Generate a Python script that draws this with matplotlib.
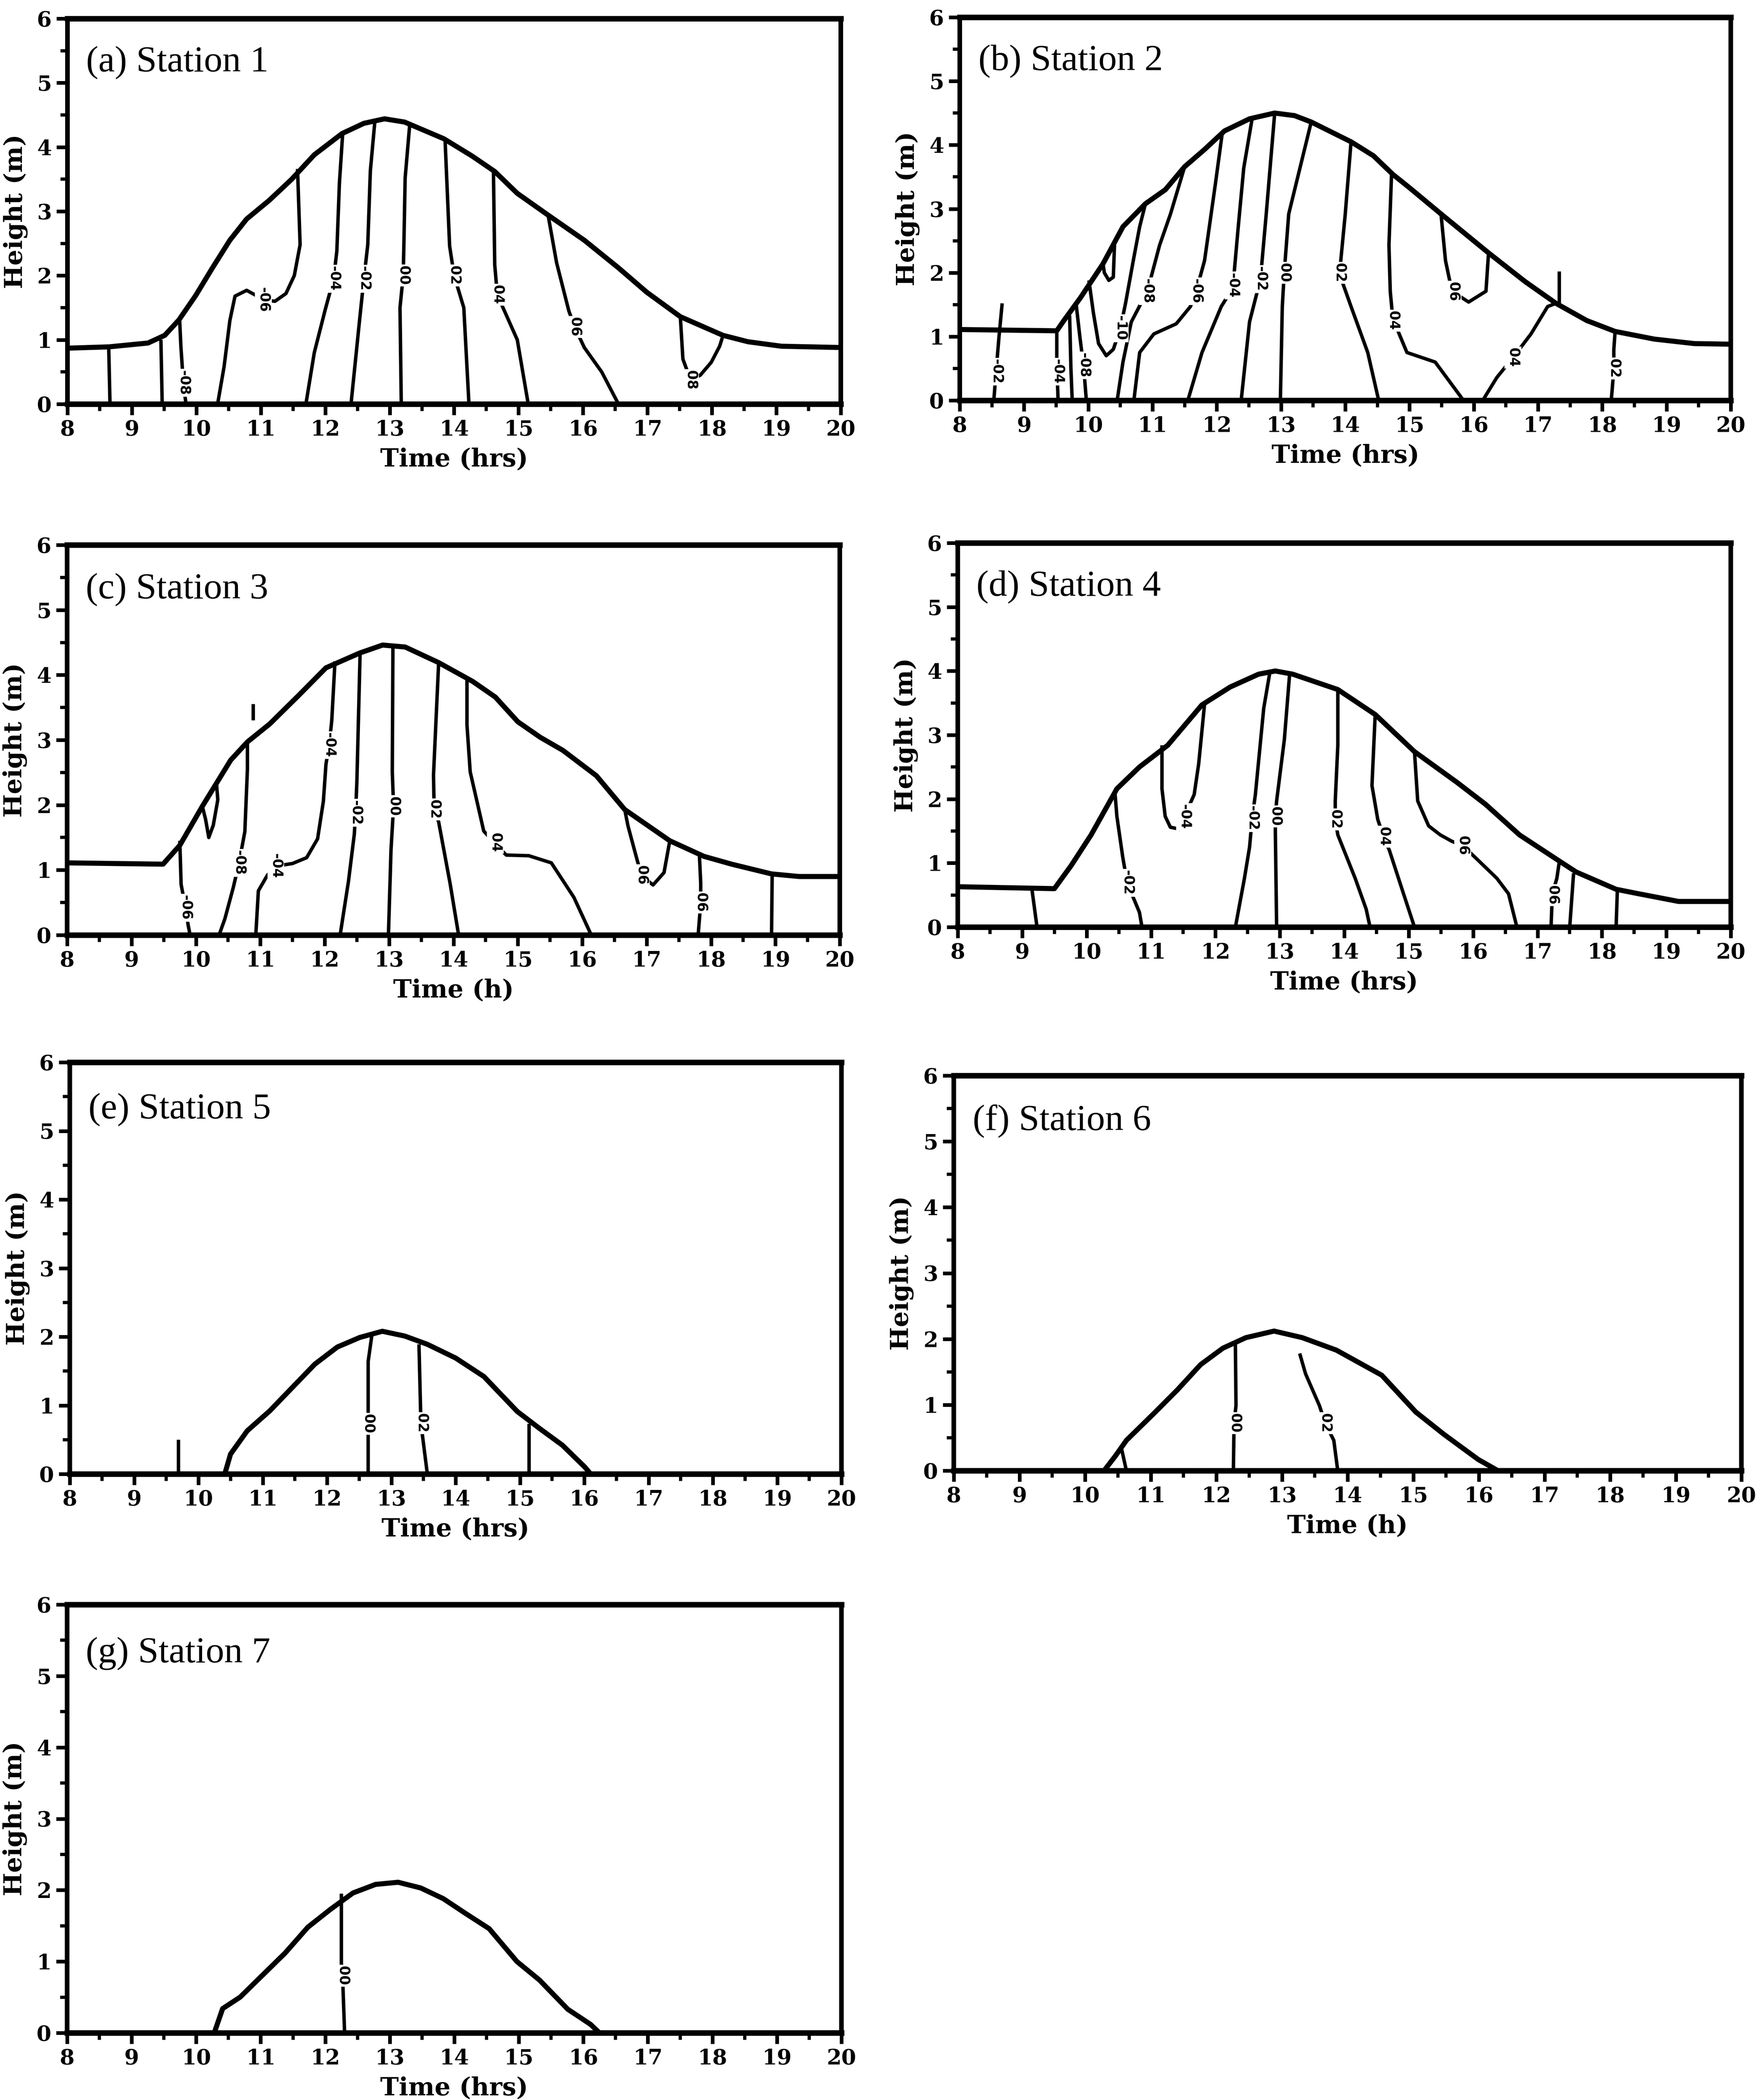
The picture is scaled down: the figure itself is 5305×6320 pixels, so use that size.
import matplotlib
matplotlib.use("Agg")
import matplotlib.pyplot as plt
from matplotlib.ticker import MultipleLocator

# water surface (time in hrs, height in m) and velocity contours for each station

S1_T = [8.0, 8.64, 9.25, 9.51, 9.73, 9.99, 10.25, 10.52, 10.78, 11.13, 11.48, 11.83, 12.26, 12.6, 12.92,
        13.23, 13.84, 14.28, 14.63, 14.98, 15.46, 16.02, 16.55, 16.99, 17.51, 18.17, 18.56, 19.08, 20.0]
S1_H = [0.87, 0.89, 0.95, 1.07, 1.31, 1.69, 2.12, 2.55, 2.88, 3.17, 3.5, 3.88, 4.21, 4.37, 4.44,
        4.39, 4.13, 3.86, 3.62, 3.28, 2.94, 2.55, 2.12, 1.74, 1.36, 1.07, 0.97, 0.9, 0.88]
S1_LINES = [
    ([8.64, 8.66], [0.89, 0.0]),
    ([9.45, 9.47], [1.0, 0.0]),
    ([9.74, 9.76, 9.8, 9.84], [1.33, 0.9, 0.3, 0.0]),
    ([10.33, 10.43, 10.52, 10.6, 10.78, 10.91, 11.04, 11.22, 11.39, 11.52, 11.61, 11.57],
     [0.0, 0.58, 1.3, 1.68, 1.77, 1.7, 1.62, 1.6, 1.72, 2.0, 2.48, 3.66]),
    ([11.7, 11.83, 12.0, 12.13, 12.18, 12.22, 12.27], [0.0, 0.8, 1.47, 1.95, 2.38, 3.44, 4.2]),
    ([12.4, 12.53, 12.6, 12.66, 12.7, 12.77], [0.0, 1.28, 1.95, 2.48, 3.63, 4.4]),
    ([13.18, 13.16, 13.21, 13.22, 13.24, 13.31], [0.0, 1.5, 2.0, 2.46, 3.52, 4.34]),
    ([14.23, 14.15, 14.0, 13.93, 13.86], [0.0, 1.5, 2.0, 2.46, 4.1]),
    ([15.15, 14.98, 14.67, 14.63, 14.61], [0.0, 1.0, 1.7, 2.17, 3.63]),
    ([16.55, 16.29, 16.02, 15.87, 15.78, 15.59, 15.46], [0.0, 0.5, 0.88, 1.2, 1.45, 2.2, 2.93]),
    ([17.51, 17.55, 17.67, 17.82, 17.99, 18.12, 18.17], [1.36, 0.7, 0.37, 0.45, 0.65, 0.9, 1.06]),
]
S1_LABELS = [(9.8, 0.33, "-08"), (11.04, 1.62, "-06"), (12.13, 1.95, "-04"), (12.6, 1.95, "-02"),
             (13.21, 2.0, "00"), (14.0, 2.0, "02"), (14.67, 1.7, "04"), (15.87, 1.2, "06"),
             (17.67, 0.37, "08")]

S2_T = [8.0, 9.51, 9.62, 9.88, 10.23, 10.54, 10.89, 11.2, 11.5, 11.81, 12.12, 12.51, 12.9, 13.21,
        13.47, 14.09, 14.44, 14.74, 15.0, 15.49, 16.23, 16.8, 17.28, 17.76, 18.2, 18.81, 19.43, 20.0]
S2_H = [1.11, 1.09, 1.25, 1.61, 2.14, 2.72, 3.08, 3.3, 3.66, 3.93, 4.22, 4.41, 4.5, 4.46,
        4.36, 4.05, 3.83, 3.54, 3.33, 2.92, 2.31, 1.86, 1.52, 1.25, 1.08, 0.96, 0.89, 0.88]
S2_LINES = [
    ([8.66, 8.61, 8.57, 8.53], [1.52, 0.99, 0.51, 0.0]),
    ([9.51, 9.51, 9.53], [1.1, 0.6, 0.0]),
    ([9.71, 9.73, 9.75], [1.33, 0.5, 0.0]),
    ([9.81, 9.87, 9.93, 9.97], [1.52, 0.99, 0.51, 0.0]),
    ([10.01, 10.08, 10.16, 10.28, 10.39, 10.5, 10.58, 10.71, 10.8, 10.89],
     [1.88, 1.37, 0.89, 0.7, 0.8, 1.13, 1.52, 2.24, 2.72, 3.08]),
    ([10.23, 10.25, 10.32, 10.39, 10.41], [2.14, 2.0, 1.88, 1.93, 2.48]),
    ([10.45, 10.54, 10.67, 10.92, 11.11, 11.28, 11.5], [0.0, 0.6, 1.23, 1.71, 2.43, 2.92, 3.66]),
    ([10.71, 10.8, 11.02, 11.37, 11.59, 11.68, 11.81, 11.98, 12.09],
     [0.0, 0.75, 1.04, 1.2, 1.47, 1.71, 2.19, 3.4, 4.22]),
    ([11.55, 11.77, 12.07, 12.25, 12.33, 12.42, 12.55], [0.0, 0.75, 1.47, 1.76, 2.67, 3.64, 4.41]),
    ([12.38, 12.51, 12.68, 12.77, 12.9], [0.0, 1.23, 1.9, 2.92, 4.48]),
    ([12.99, 13.02, 13.05, 13.12, 13.47], [0.0, 1.47, 2.0, 2.92, 4.36]),
    ([14.52, 14.35, 14.09, 13.91, 14.0, 14.09], [0.0, 0.75, 1.47, 1.98, 2.92, 4.05]),
    ([14.72, 14.68, 14.7, 14.74, 14.96, 15.4, 15.84], [3.54, 2.43, 1.71, 1.28, 0.75, 0.6, 0.0]),
    ([15.49, 15.56, 15.66, 15.92, 16.19, 16.23], [2.92, 2.19, 1.71, 1.54, 1.71, 2.31]),
    ([16.14, 16.36, 16.61, 16.89, 17.15, 17.28], [0.0, 0.36, 0.67, 1.04, 1.47, 1.52]),
    ([17.33, 17.33], [2.02, 1.47]),
    ([18.2, 18.18, 18.18, 18.14], [1.08, 0.8, 0.48, 0.0]),
]
S2_LABELS = [(8.57, 0.45, "-02"), (9.52, 0.45, "-04"), (9.93, 0.55, "-08"), (10.5, 1.13, "-10"),
             (10.92, 1.71, "-08"), (11.68, 1.71, "-06"), (12.25, 1.8, "-04"), (12.68, 1.9, "-02"),
             (13.05, 2.0, "00"), (13.91, 2.0, "02"), (14.74, 1.25, "04"), (15.68, 1.7, "06"),
             (16.61, 0.67, "04"), (18.18, 0.5, "02")]

S3_T = [8.0, 9.49, 9.75, 10.1, 10.54, 10.8, 11.15, 11.59, 12.02, 12.55, 12.9, 13.25, 13.77, 14.3,
        14.65, 15.0, 15.35, 15.7, 16.22, 16.66, 17.36, 17.89, 18.32, 18.94, 19.37, 20.0]
S3_H = [1.11, 1.09, 1.38, 1.98, 2.69, 2.97, 3.25, 3.68, 4.11, 4.34, 4.46, 4.43, 4.19, 3.9,
        3.66, 3.28, 3.04, 2.84, 2.45, 1.93, 1.45, 1.21, 1.09, 0.94, 0.9, 0.9]
S3_LINES = [
    ([9.75, 9.77, 9.84, 9.88, 9.91], [1.45, 0.78, 0.41, 0.15, 0.0]),
    ([10.1, 10.15, 10.2, 10.27, 10.34, 10.32], [1.98, 1.78, 1.5, 1.69, 2.08, 2.33]),
    ([10.8, 10.8, 10.76, 10.67, 10.58, 10.45, 10.36], [2.97, 2.55, 1.59, 1.11, 0.73, 0.25, 0.0]),
    ([10.89, 10.89], [3.55, 3.3]),
    ([10.93, 10.97, 11.11, 11.24, 11.5, 11.72, 11.89, 11.98, 12.02, 12.07, 12.11, 12.16],
     [0.0, 0.68, 0.92, 1.06, 1.1, 1.19, 1.48, 2.06, 2.63, 2.92, 3.3, 4.21]),
    ([12.24, 12.37, 12.46, 12.48, 12.5, 12.55], [0.0, 0.83, 1.55, 1.88, 2.36, 4.34]),
    ([12.99, 13.03, 13.07, 13.05, 13.06], [0.0, 1.31, 1.98, 2.51, 4.45]),
    ([14.08, 13.95, 13.77, 13.7, 13.69, 13.77], [0.0, 0.78, 1.74, 1.93, 2.46, 4.19]),
    ([14.21, 14.21, 14.26, 14.47, 14.65, 14.82, 15.17, 15.52, 15.87, 16.14],
     [3.96, 3.23, 2.51, 1.6, 1.4, 1.23, 1.22, 1.11, 0.58, 0.0]),
    ([16.66, 16.71, 16.84, 16.92, 17.1, 17.27, 17.36], [1.93, 1.68, 1.2, 0.91, 0.77, 0.96, 1.45]),
    ([17.82, 17.84, 17.84, 17.8], [1.22, 0.8, 0.49, 0.0]),
    ([18.95, 18.94], [0.94, 0.0]),
]
S3_LABELS = [(9.84, 0.42, "-06"), (10.67, 1.11, "-08"), (11.24, 1.06, "-04"), (12.07, 2.92, "-04"),
             (12.48, 1.88, "-02"), (13.07, 1.98, "00"), (13.7, 1.93, "02"), (14.65, 1.42, "04"),
             (16.92, 0.92, "06"), (17.84, 0.5, "06")]

S4_T = [8.0, 9.5, 9.76, 10.07, 10.47, 10.82, 11.26, 11.79, 12.23, 12.67, 12.93, 13.2, 13.9, 14.48,
        15.09, 15.75, 16.19, 16.72, 17.34, 17.6, 18.22, 18.57, 19.19, 20.0]
S4_H = [0.63, 0.6, 0.96, 1.44, 2.16, 2.5, 2.84, 3.47, 3.75, 3.95, 4.0, 3.95, 3.71, 3.32,
        2.74, 2.26, 1.92, 1.44, 1.03, 0.86, 0.59, 0.52, 0.4, 0.4]
S4_LINES = [
    ([9.15, 9.23], [0.6, 0.0]),
    ([10.44, 10.47, 10.56, 10.63, 10.82, 10.86], [2.1, 1.73, 1.1, 0.69, 0.23, 0.0]),
    ([11.17, 11.17, 11.22, 11.3, 11.44, 11.52, 11.67, 11.74, 11.83],
     [2.84, 2.16, 1.73, 1.56, 1.53, 1.73, 2.07, 2.55, 3.47]),
    ([12.31, 12.45, 12.53, 12.57, 12.62, 12.75, 12.84], [0.0, 0.76, 1.25, 1.7, 2.07, 3.42, 3.95]),
    ([12.95, 12.93, 12.93, 12.95, 13.07, 13.15], [0.0, 1.49, 1.73, 1.97, 2.93, 3.93]),
    ([13.9, 13.9, 13.86, 13.86, 13.9, 14.17, 14.34, 14.4], [3.71, 2.84, 1.97, 1.68, 1.44, 0.76, 0.28, 0.0]),
    ([14.48, 14.43, 14.52, 14.61, 14.7, 14.92, 15.09], [3.32, 2.21, 1.68, 1.41, 1.2, 0.52, 0.0]),
    ([15.09, 15.14, 15.31, 15.49, 15.67, 15.84, 16.02, 16.37, 16.55, 16.68],
     [2.74, 1.97, 1.58, 1.44, 1.34, 1.27, 1.1, 0.76, 0.52, 0.0]),
    ([17.34, 17.3, 17.23, 17.21], [1.03, 0.76, 0.52, 0.0]),
    ([17.56, 17.5], [0.84, 0.0]),
    ([18.24, 18.22], [0.59, 0.0]),
]
S4_LABELS = [(10.63, 0.69, "-02"), (11.52, 1.72, "-04"), (12.57, 1.7, "-02"), (12.93, 1.73, "00"),
             (13.86, 1.68, "02"), (14.61, 1.41, "04"), (15.84, 1.27, "06"), (17.23, 0.5, "06")]

S5_T = [8.0, 10.41, 10.5, 10.76, 11.11, 11.46, 11.81, 12.16, 12.51, 12.86, 13.21, 13.56, 14.0,
        14.44, 14.96, 15.31, 15.66, 16.01, 16.1, 20.0]
S5_H = [0.0, 0.0, 0.29, 0.63, 0.92, 1.26, 1.6, 1.85, 1.99, 2.08, 2.01, 1.89, 1.69,
        1.42, 0.91, 0.66, 0.42, 0.1, 0.0, 0.0]
S5_LINES = [
    ([9.69, 9.69], [0.5, 0.0]),
    ([12.7, 12.64, 12.64, 12.64], [2.04, 1.64, 0.73, 0.0]),
    ([13.43, 13.46, 13.56], [1.89, 0.74, 0.0]),
    ([15.14, 15.14], [0.73, 0.0]),
]
S5_LABELS = [(12.64, 0.73, "00"), (13.47, 0.74, "02")]

S6_T = [8.0, 10.29, 10.46, 10.63, 11.07, 11.41, 11.76, 12.1, 12.45, 12.88, 13.31, 13.83, 14.52,
        15.04, 15.47, 15.99, 16.29, 20.0]
S6_H = [0.0, 0.0, 0.22, 0.46, 0.89, 1.23, 1.61, 1.86, 2.02, 2.12, 2.02, 1.83, 1.45,
        0.89, 0.55, 0.17, 0.0, 0.0]
S6_LINES = [
    ([10.55, 10.63], [0.36, 0.0]),
    ([12.29, 12.3, 12.27, 12.26], [1.95, 0.99, 0.72, 0.0]),
    ([13.27, 13.36, 13.57, 13.66, 13.79, 13.85], [1.78, 1.47, 0.99, 0.72, 0.46, 0.0]),
]
S6_LABELS = [(12.28, 0.72, "00"), (13.66, 0.72, "02")]

S7_T = [8.0, 10.28, 10.41, 10.68, 11.03, 11.38, 11.73, 12.08, 12.43, 12.78, 13.13, 13.48, 13.83,
        14.18, 14.54, 14.97, 15.32, 15.76, 16.11, 16.25, 20.0]
S7_H = [0.0, 0.0, 0.34, 0.5, 0.81, 1.12, 1.48, 1.73, 1.96, 2.08, 2.11, 2.03, 1.88,
        1.67, 1.46, 1.0, 0.74, 0.33, 0.12, 0.0, 0.0]
S7_LINES = [
    ([12.25, 12.25, 12.27, 12.3], [1.95, 0.97, 0.76, 0.0]),
]
S7_LABELS = [(12.27, 0.8, "00")]

TITLES = ["(a) Station 1", "(b) Station 2", "(c) Station 3", "(d) Station 4",
          "(e) Station 5", "(f) Station 6", "(g) Station 7"]
XLABELS = ["Time (hrs)", "Time (hrs)", "Time (h)", "Time (hrs)", "Time (hrs)", "Time (h)", "Time (hrs)"]

W, H = 5305, 6320
# axes boxes in pixels: left, top, right, bottom
BOXES = [
    (203, 56, 2530, 1216),
    (2888, 52, 5208, 1205),
    (202, 1640, 2527, 2814),
    (2882, 1634, 5208, 2790),
    (210, 3197, 2532, 4436),
    (2870, 3237, 5240, 4426),
    (202, 4829, 2532, 6118),
]

SERIF_BOLD = dict(family="DejaVu Serif", fontweight="bold")


def draw_station(ax, t, h, lines, labels, title, xlabel):
    for lt, lh in lines:
        ax.plot(lt, lh, color="black", lw=7.5, solid_joinstyle="round", solid_capstyle="butt", zorder=2)
    ax.plot(t, h, color="black", lw=11, solid_joinstyle="round", zorder=4)
    for x, y, s in labels:
        ax.text(x, y, s, rotation=270, ha="center", va="center", fontsize=30,
                family="DejaVu Sans", fontweight="bold", zorder=3,
                bbox=dict(facecolor="white", edgecolor="none", pad=3))

    ax.text(0.024, 0.885, title, transform=ax.transAxes, ha="left", va="center",
            fontsize=80, family="Liberation Serif")

    ax.set_xlim(8, 20)
    ax.set_ylim(0, 6)
    ax.xaxis.set_major_locator(MultipleLocator(1))
    ax.xaxis.set_minor_locator(MultipleLocator(0.5))
    ax.yaxis.set_major_locator(MultipleLocator(1))
    ax.yaxis.set_minor_locator(MultipleLocator(0.5))
    ax.tick_params(which="major", direction="out", length=24, width=8, pad=10)
    ax.tick_params(which="minor", direction="out", length=15, width=7)
    for lab in ax.get_xticklabels() + ax.get_yticklabels():
        lab.set_fontsize(46)
        lab.set_fontfamily("DejaVu Serif")
        lab.set_fontweight("bold")
    for sp in ax.spines.values():
        sp.set_linewidth(10)
    ax.spines["top"].set_linewidth(12)
    ax.spines["bottom"].set_linewidth(12)
    ax.set_xlabel(xlabel, fontsize=54, labelpad=16, **SERIF_BOLD)
    ax.set_ylabel("Height (m)", fontsize=54, labelpad=20, **SERIF_BOLD)


stations = [
    (S1_T, S1_H, S1_LINES, S1_LABELS),
    (S2_T, S2_H, S2_LINES, S2_LABELS),
    (S3_T, S3_H, S3_LINES, S3_LABELS),
    (S4_T, S4_H, S4_LINES, S4_LABELS),
    (S5_T, S5_H, S5_LINES, S5_LABELS),
    (S6_T, S6_H, S6_LINES, S6_LABELS),
    (S7_T, S7_H, S7_LINES, S7_LABELS),
]

fig = plt.figure(figsize=(W / 100, H / 100), dpi=100)
for (t, h, lines, labels), title, xlabel, (l, tp, r, b) in zip(stations, TITLES, XLABELS, BOXES):
    ax = fig.add_axes([l / W, 1 - b / H, (r - l) / W, (b - tp) / H])
    draw_station(ax, t, h, lines, labels, title, xlabel)

fig.savefig("out.png", dpi=100, facecolor="white")
